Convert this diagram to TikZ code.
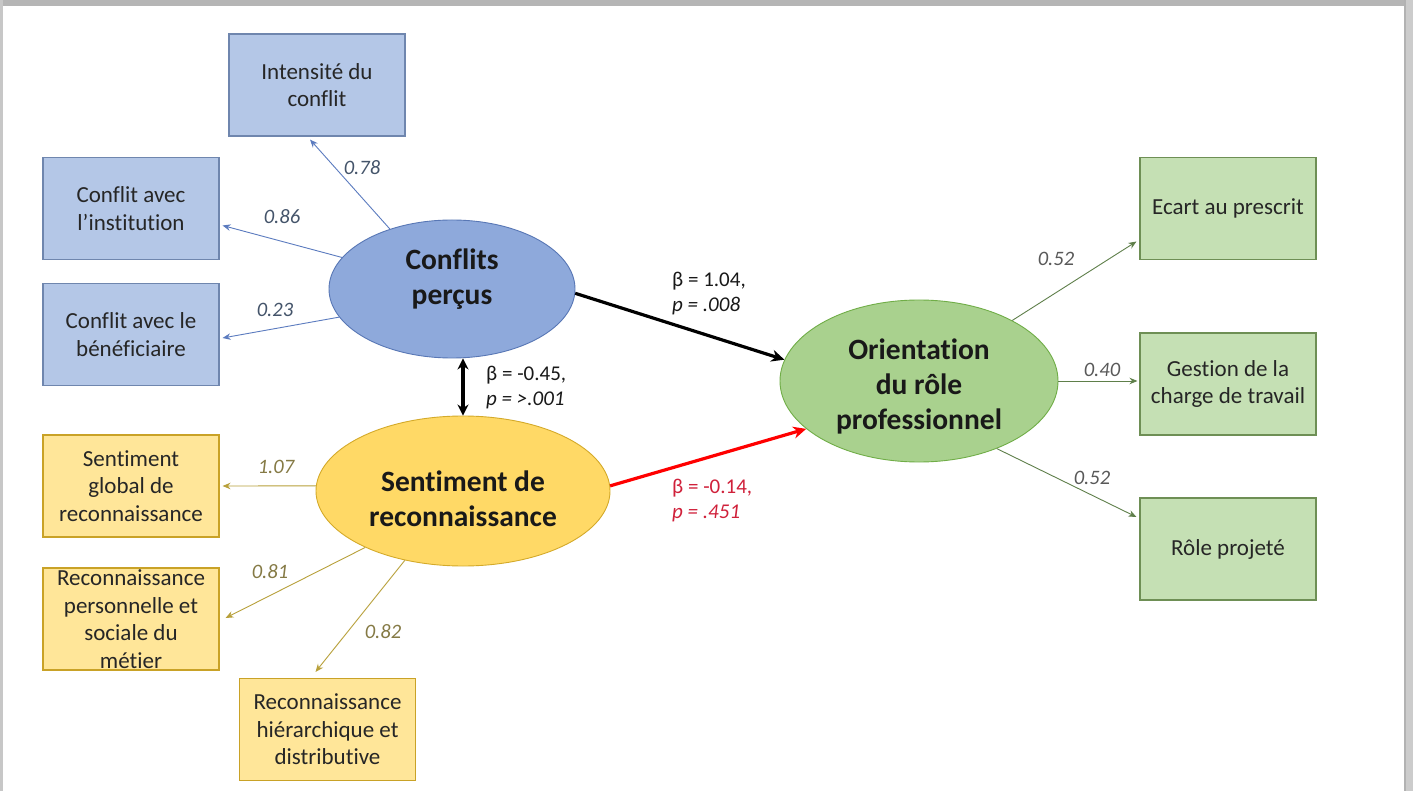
\documentclass[tikz,border=0pt]{standalone}
\usepackage{fontspec}
\setmainfont[Ligatures=NoCommon]{Carlito}
\usetikzlibrary{shapes.geometric,arrows.meta,calc}
\definecolor{bluebox}{HTML}{B4C7E7}
\definecolor{blueboxline}{HTML}{6F86AE}
\definecolor{blueell}{HTML}{8EA9DB}
\definecolor{blueellline}{HTML}{5877B5}
\definecolor{bluearr}{HTML}{5B7BBF}
\definecolor{bluelab}{HTML}{44546A}
\definecolor{yelbox}{HTML}{FFE699}
\definecolor{yelboxline}{HTML}{C9A227}
\definecolor{yelell}{HTML}{FFD966}
\definecolor{yelellline}{HTML}{D4AA2A}
\definecolor{yelarr}{HTML}{B8A03A}
\definecolor{yellab}{HTML}{857A45}
\definecolor{grnbox}{HTML}{C5E0B4}
\definecolor{grnboxline}{HTML}{6E8F55}
\definecolor{grnell}{HTML}{A9D18E}
\definecolor{grnellline}{HTML}{70AD47}
\definecolor{grnarr}{HTML}{5F7F4A}
\definecolor{grnlab}{HTML}{595959}
\definecolor{redarr}{HTML}{FF0000}
\definecolor{redlab}{HTML}{D0203A}
\definecolor{framegray}{HTML}{B5B5B5}
\tikzset{
  obsbox/.style={draw, line width=1.1pt, rectangle, minimum width=176pt, minimum height=102pt,
    inner sep=0pt, align=center, font=\fontsize{23}{27.5}\selectfont, text=black!85},
  latent/.style={draw, line width=0.9pt, ellipse, inner sep=0pt},
  latenttext/.style={align=center, inner sep=0pt,
    font=\bfseries\fontsize{29.5}{35}\selectfont, text=black!90},
  thinarr/.style={line width=0.9pt, -{Stealth[length=8pt,width=6.5pt]}},
  thickarr/.style={line width=3.2pt, -{Stealth[length=13pt,width=12pt]}},
  lab/.style={font=\itshape\fontsize{20.5}{25}\selectfont, inner sep=0pt},
  coef/.style={font=\fontsize{21}{25}\selectfont, inner sep=0pt, align=left, anchor=west}
}
\begin{document}
\begin{tikzpicture}[x=1pt,y=-1pt]
% frame
\useasboundingbox (0,0) rectangle (1413,791);
\fill[white] (0,0) rectangle (1413,791);
\fill[framegray] (0,0) rectangle (1413,6);
\fill[black!22] (0,0) rectangle (3,791);
\fill[black!20] (1404,0) rectangle (1413,791);
\fill[black!30] (1404,0) rectangle (1406,791);

% latent variables
\node[latent, fill=blueell, draw=blueellline, minimum width=246pt, minimum height=138pt,
  label={[latenttext, yshift=10pt]center:Conflits\\perçus}] (cp) at (452,289) {};
\node[latent, fill=yelell, draw=yelellline, minimum width=294pt, minimum height=150pt,
  label={[latenttext, yshift=-8pt]center:Sentiment de\\reconnaissance}] (sr) at (463,491) {};
\node[latent, fill=grnell, draw=grnellline, minimum width=278pt, minimum height=162pt,
  label={[latenttext, yshift=-5pt]center:Orientation\\du rôle\\professionnel}] (or) at (919,381) {};

% blue boxes
\node[obsbox, fill=bluebox, draw=blueboxline] (b1) at (317,85) {Intensité du\\conflit};
\node[obsbox, fill=bluebox, draw=blueboxline] (b2) at (131,208.5) {Conflit avec\\l’institution};
\node[obsbox, fill=bluebox, draw=blueboxline] (b3) at (131,334.5) {Conflit avec le\\bénéficiaire};

% yellow boxes
\node[obsbox, fill=yelbox, draw=yelboxline] (y1) at (131,486) {Sentiment\\global de\\reconnaissance};
\node[obsbox, fill=yelbox, draw=yelboxline] (y2) at (131,619) {Reconnaissance\\personnelle et\\sociale du\\métier};
\node[obsbox, fill=yelbox, draw=yelboxline] (y3) at (327.5,729.5) {Reconnaissance\\hiérarchique et\\distributive};

% green boxes
\node[obsbox, fill=grnbox, draw=grnboxline] (g1) at (1228,208.5) {Ecart au prescrit};
\node[obsbox, fill=grnbox, draw=grnboxline] (g2) at (1228,384) {Gestion de la\\charge de travail};
\node[obsbox, fill=grnbox, draw=grnboxline] (g3) at (1228,549) {Rôle projeté};

% blue loadings
\draw[thinarr, bluearr] (cp.136.8) -- ([xshift=-7pt,yshift=-3pt]b1.south);
\draw[thinarr, bluearr] (cp.164.9) -- ([xshift=3pt,yshift=-17pt]b2.east);
\draw[thinarr, bluearr] (cp.194.8) -- ([xshift=3pt,yshift=-3.5pt]b3.east);
\node[lab, text=bluelab] (l1) at (362,168) {0.78};
\node[lab, text=bluelab] (l2) at (282,217) {0.86};
\node[lab, text=bluelab] (l3) at (275,310) {0.23};

% yellow loadings
\draw[thinarr, yelarr] (sr.178) -- ([xshift=3pt]y1.east);
\draw[thinarr, yelarr] (sr.210) -- ([xshift=6pt,yshift=1pt]y2.east);
\draw[thinarr, yelarr] (sr.230.3) -- ([xshift=-12pt,yshift=6pt]y3.north);
\node[lab, text=yellab] (l4) at (276,467) {1.07};
\node[lab, text=yellab] (l5) at (270,572) {0.81};
\node[lab, text=yellab] (l6) at (383,632) {0.82};

% green loadings
\draw[thinarr, grnarr] (or.33.3) -- ([xshift=-3pt,yshift=-33pt]g1.west);
\draw[thinarr, grnarr] (or.east) -- ([xshift=-2pt,yshift=3pt]g2.west);
\draw[thinarr, grnarr] (or.319.8) -- ([xshift=-3pt,yshift=32pt]g3.west);
\node[lab, text=grnlab] (l7) at (1056,259) {0.52};
\node[lab, text=grnlab] (l8) at (1102,370) {0.40};
\node[lab, text=grnlab] (l9) at (1092,478) {0.52};

% structural paths
\draw[thickarr, black] (cp.358) -- (or.171);
\draw[thickarr, redarr] (sr.2.7) -- (or.203.8);
\draw[line width=3.2pt, {Stealth[length=11pt,width=11pt]}-{Stealth[length=11pt,width=11pt]}, black] (sr.north |- cp.south) -- (sr.north);

\node[coef, text=black!90] (c1) at (672,293.5) {β = 1.04,\\\textit{p = .008}};
\node[coef, text=black!90] (c2) at (486,387.5) {β = -0.45,\\\textit{p = >.001}};
\node[coef, text=redlab] (c3) at (672,500.5) {β = -0.14,\\\textit{p = .451}};
\end{tikzpicture}
\end{document}
